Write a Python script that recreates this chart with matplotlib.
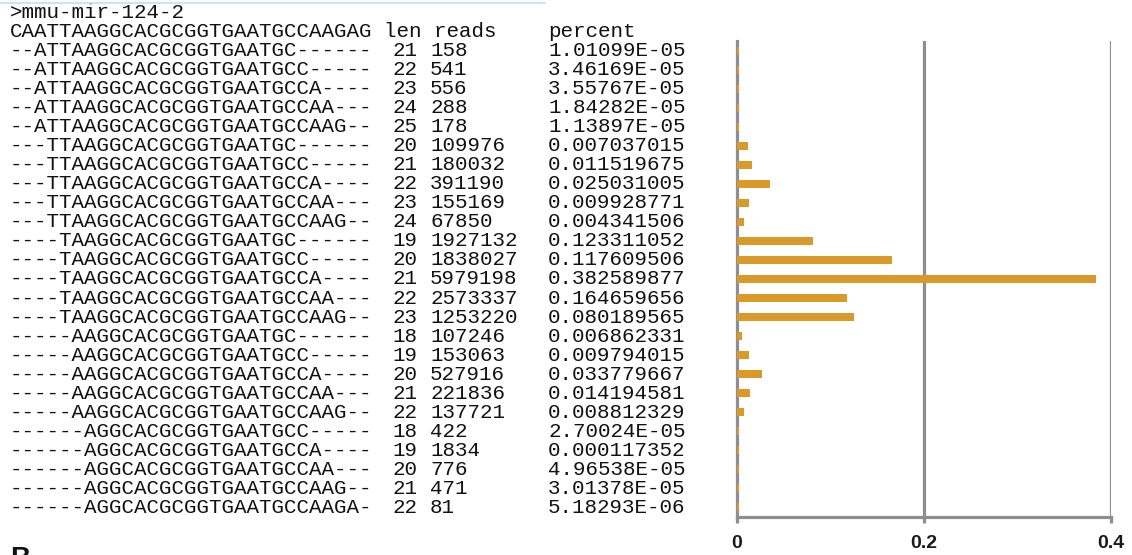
import numpy as np
from matplotlib import pyplot as plt
from matplotlib import transforms
from matplotlib.lines import Line2D

# sequence table (text part)
title = ">mmu-mir-124-2"
ref_seq = "CAATTAAGGCACGCGGTGAATGCCAAGAG"
seqs = [
    "--ATTAAGGCACGCGGTGAATGC------",
    "--ATTAAGGCACGCGGTGAATGCC-----",
    "--ATTAAGGCACGCGGTGAATGCCA----",
    "--ATTAAGGCACGCGGTGAATGCCAA---",
    "--ATTAAGGCACGCGGTGAATGCCAAG--",
    "---TTAAGGCACGCGGTGAATGC------",
    "---TTAAGGCACGCGGTGAATGCC-----",
    "---TTAAGGCACGCGGTGAATGCCA----",
    "---TTAAGGCACGCGGTGAATGCCAA---",
    "---TTAAGGCACGCGGTGAATGCCAAG--",
    "----TAAGGCACGCGGTGAATGC------",
    "----TAAGGCACGCGGTGAATGCC-----",
    "----TAAGGCACGCGGTGAATGCCA----",
    "----TAAGGCACGCGGTGAATGCCAA---",
    "----TAAGGCACGCGGTGAATGCCAAG--",
    "-----AAGGCACGCGGTGAATGC------",
    "-----AAGGCACGCGGTGAATGCC-----",
    "-----AAGGCACGCGGTGAATGCCA----",
    "-----AAGGCACGCGGTGAATGCCAA---",
    "-----AAGGCACGCGGTGAATGCCAAG--",
    "------AGGCACGCGGTGAATGCC-----",
    "------AGGCACGCGGTGAATGCCA----",
    "------AGGCACGCGGTGAATGCCAA---",
    "------AGGCACGCGGTGAATGCCAAG--",
    "------AGGCACGCGGTGAATGCCAAGA-",
]
lens = [21, 22, 23, 24, 25, 20, 21, 22, 23, 24, 19, 20, 21, 22, 23,
        18, 19, 20, 21, 22, 18, 19, 20, 21, 22]
reads = ["158", "541", "556", "288", "178", "109976", "180032", "391190",
         "155169", "67850", "1927132", "1838027", "5979198", "2573337",
         "1253220", "107246", "153063", "527916", "221836", "137721",
         "422", "1834", "776", "471", "81"]
percent = ["1.01099E-05", "3.46169E-05", "3.55767E-05", "1.84282E-05",
           "1.13897E-05", "0.007037015", "0.011519675", "0.025031005",
           "0.009928771", "0.004341506", "0.123311052", "0.117609506",
           "0.382589877", "0.164659656", "0.080189565", "0.006862331",
           "0.009794015", "0.033779667", "0.014194581", "0.008812329",
           "2.70024E-05", "0.000117352", "4.96538E-05", "3.01378E-05",
           "5.18293E-06"]

# bar lengths as drawn in the picture
bar_values = [0.002, 0.002, 0.002, 0.002, 0.002,
              0.0118, 0.0165, 0.036, 0.0128, 0.0078,
              0.082, 0.166, 0.384, 0.118, 0.125,
              0.0057, 0.0128, 0.0275, 0.0143, 0.0078,
              0.002, 0.002, 0.002, 0.002, 0.002]
xticks = [0, 0.2, 0.4]
xtick_labels = ["0", "0.2", "0.4"]

W, H = 1132, 555
fig = plt.figure(figsize=(W / 100, H / 100), dpi=100)

x0, x1 = 736.7, 1111.0
y_top, y_bot = 41.0, 517.0
ax = fig.add_axes([x0 / W, (H - y_bot) / H, (x1 - x0) / W, (y_bot - y_top) / H])

grid_color = '#8d8e91'
bar_color = '#da9a2a'

n = len(bar_values)
y = np.arange(n)
for gx in xticks[1:]:
    ax.axvline(gx, color=grid_color, lw=2.3, zorder=1)
ax.barh(y, bar_values, height=0.42, color=bar_color, zorder=3)

ax.set_xlim(0, 0.4)
ax.set_ylim(n - 0.5, -0.5)
ax.set_yticks([])
ax.set_xticks(xticks)
ax.set_xticklabels(xtick_labels, fontsize=14, fontweight='bold',
                   family='Liberation Sans', color='#1a1a1a')
ax.tick_params(axis='x', length=4, width=2.3, color=grid_color, pad=9)
for side in ['top', 'right']:
    ax.spines[side].set_visible(False)
ax.spines['left'].set_color(grid_color)
ax.spines['left'].set_linewidth(2.3)
ax.spines['bottom'].set_color(grid_color)
ax.spines['bottom'].set_linewidth(2.3)

# text table, rows lined up with the bars
tr = transforms.blended_transform_factory(fig.transFigure, ax.transData)
txt = dict(family='Liberation Mono', fontsize=15, color='#111111',
           va='center', transform=tr, clip_on=False)
col_seq, col_len, col_reads, col_pct = 10, 392, 430, 548

ax.text(col_seq / W, -2, title, **txt)
ax.text(col_seq / W, -1, ref_seq, **txt)
ax.text(384 / W, -1, "len reads", **txt)
ax.text(col_pct / W, -1, "percent", **txt)
for i in range(n):
    ax.text(col_seq / W, i, seqs[i], **txt)
    ax.text(col_len / W, i, str(lens[i]), **txt)
    ax.text(col_reads / W, i, reads[i], **txt)
    ax.text(col_pct / W, i, percent[i], **txt)

# thin blue rule at the top and the cut-off panel letter
fig.add_artist(Line2D([0, 545 / W], [1 - 3 / H, 1 - 3 / H], color='#c9dcef', lw=1.2))
fig.text(10 / W, (H - 546) / H, "B", fontsize=20, fontweight='bold',
         family='Liberation Sans', va='top', color='#111111')

plt.savefig('out.png', dpi=100)
